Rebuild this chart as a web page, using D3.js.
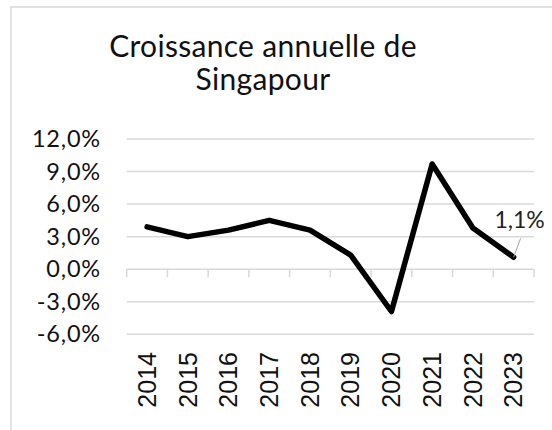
<!DOCTYPE html>
<html>
<head>
<meta charset="utf-8">
<script src="https://cdn.jsdelivr.net/npm/d3@7"></script>
<style>
  body { margin: 0; background: #fff; }
  svg { display: block; }
</style>
</head>
<body>
<script>
const w = 552;
const h = 430;

const years = ["2014", "2015", "2016", "2017", "2018", "2019", "2020", "2021", "2022", "2023"];
const growth = [3.9, 3.0, 3.6, 4.5, 3.6, 1.3, -3.9, 9.7, 3.8, 1.1];
const yTicks = [-6, -3, 0, 3, 6, 9, 12];
const titleLines = ["Croissance annuelle de", "Singapour"];
const lastLabel = "1,1%";

const mainFont = "Lato, 'Open Sans', sans-serif";
const axisFont = "'Liberation Sans', Arial, sans-serif";
const gridColor = "#d9d9d9";

const svg = d3.select("body")
              .append("svg")
              .attr("width", w)
              .attr("height", h);

// outer chart frame (cropped on right/bottom)
svg.append("rect")
   .attr("x", 11)
   .attr("y", 7)
   .attr("width", w + 20)
   .attr("height", h + 20)
   .attr("fill", "none")
   .attr("stroke", gridColor)
   .attr("stroke-width", 1.5);

const xScale = d3.scaleBand()
                 .domain(years)
                 .range([126.7, 534])
                 .padding(0);

const yScale = d3.scaleLinear()
                 .domain([-6, 12])
                 .range([334.3, 139]);

// title, one text per line
svg.selectAll(".title")
   .data(titleLines)
   .enter()
   .append("text")
   .attr("class", "title")
   .attr("x", 263)
   .attr("y", (d, i) => 57 + i * 33)
   .attr("text-anchor", "middle")
   .style("font-family", mainFont)
   .style("font-size", "30px")
   .style("letter-spacing", "0.3px")
   .attr("fill", "#111")
   .text(d => d);

// gridlines
svg.append("g")
   .attr("class", "grid")
   .selectAll("line")
   .data(yTicks)
   .enter()
   .append("line")
   .attr("x1", xScale.range()[0])
   .attr("x2", xScale.range()[1])
   .attr("y1", d => yScale(d))
   .attr("y2", d => yScale(d))
   .attr("stroke", gridColor)
   .attr("stroke-width", 1.5);

// y axis labels
const yAxis = d3.axisLeft(yScale)
                .tickValues(yTicks)
                .tickSize(0)
                .tickPadding(0)
                .tickFormat(d => d3.format(".1f")(d).replace(".", ",").replace("−", "-") + "%");

const yG = svg.append("g")
   .attr("transform", "translate(101,0)")
   .call(yAxis);
yG.select(".domain").remove();
yG.selectAll("text")
  .style("font-family", mainFont)
  .style("font-size", "23.5px")
  .style("letter-spacing", "0.8px")
  .attr("fill", "#111");

// category boundary ticks on zero line
const edges = years.map(d => xScale(d)).concat([xScale.range()[1]]);
svg.append("g")
   .selectAll("line")
   .data(edges)
   .enter()
   .append("line")
   .attr("x1", d => d)
   .attr("x2", d => d)
   .attr("y1", yScale(0))
   .attr("y2", yScale(0) + 8)
   .attr("stroke", gridColor)
   .attr("stroke-width", 1.5);

// x axis labels
const xAxis = d3.axisBottom(xScale).tickSize(0).tickPadding(0);
const xG = svg.append("g")
   .attr("transform", "translate(0," + 352 + ")")
   .call(xAxis);
xG.select(".domain").remove();
xG.selectAll("text")
  .attr("transform", "rotate(-90)")
  .attr("x", 0)
  .attr("y", 0)
  .attr("dy", "0.35em")
  .attr("text-anchor", "end")
  .style("font-family", axisFont)
  .style("font-size", "25px")
  .attr("fill", "#111");

// line
const line = d3.line()
               .x((d, i) => xScale(years[i]) + xScale.bandwidth() / 2)
               .y(d => yScale(d));

svg.append("path")
   .datum(growth)
   .attr("d", line)
   .attr("fill", "none")
   .attr("stroke", "#000")
   .attr("stroke-width", 5.5)
   .attr("stroke-linejoin", "round")
   .attr("stroke-linecap", "round");

// last value label with leader line
const lastX = xScale(years[years.length - 1]) + xScale.bandwidth() / 2;
const lastY = yScale(growth[growth.length - 1]);
svg.append("line")
   .attr("x1", lastX)
   .attr("y1", lastY)
   .attr("x2", lastX + 7)
   .attr("y2", lastY - 19)
   .attr("stroke", "#a6a6a6")
   .attr("stroke-width", 1);

svg.append("text")
   .attr("x", lastX + 6)
   .attr("y", lastY - 29)
   .attr("text-anchor", "middle")
   .style("font-family", mainFont)
   .style("font-size", "23px")
   .attr("fill", "#222")
   .text(lastLabel);
</script>
</body>
</html>
